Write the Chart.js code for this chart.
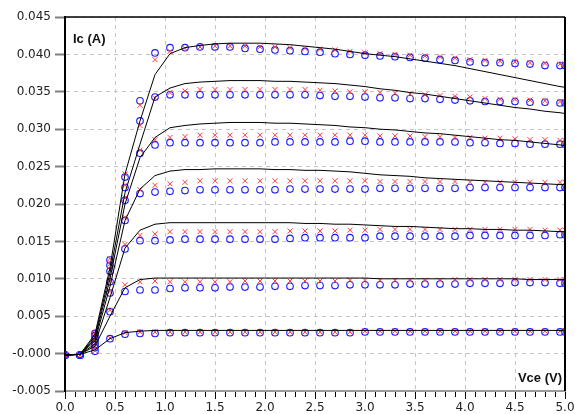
<!DOCTYPE html>
<html>
<head>
<meta charset="utf-8">
<script src="https://cdn.jsdelivr.net/npm/chart.js@4.4.1/dist/chart.umd.min.js"></script>
<style>
html,body{margin:0;padding:0;background:#fff;}
#wrap{width:575px;height:414px;position:relative;}
</style>
</head>
<body>
<div id="wrap"><canvas id="c" width="575" height="414"></canvas></div>
<script>
// Vce values (V)
const vce = [0,0.15,0.3,0.45,0.6, 0.75,0.9,1.05,1.2,1.35, 1.5,1.65,1.8,1.95,2.1, 2.25,2.4,2.55,2.7,2.85,
             3.0,3.15,3.3,3.45,3.6, 3.75,3.9,4.05,4.2,4.35, 4.5,4.65,4.8,4.95,5.0];

// Model curves (black lines), Ic (A)
const model1 = [-0.0002,-0.0001,0.0005,0.0020,0.0028, 0.0030,0.0031,0.0031,0.0031,0.0031, 0.0031,0.0031,0.0031,0.0031,0.0031, 0.0031,0.0031,0.0031,0.0031,0.0031, 0.0031,0.0031,0.0031,0.0031,0.0031, 0.0031,0.0031,0.0031,0.0031,0.0031, 0.0031,0.0031,0.0031,0.0031,0.0031];
const model2 = [-0.0002,-0.0001,0.0010,0.0050,0.0088, 0.0099,0.0101,0.0101,0.0101,0.0101, 0.0101,0.0101,0.0101,0.0101,0.0101, 0.0101,0.0101,0.0101,0.0101,0.0101, 0.0101,0.0100,0.0100,0.0100,0.0100, 0.0100,0.0100,0.0100,0.0100,0.0100, 0.0100,0.0099,0.0099,0.0099,0.0099];
const model3 = [-0.0002,-0.0001,0.0013,0.0075,0.0141, 0.0165,0.0173,0.0175,0.0175,0.0175, 0.0175,0.0175,0.0175,0.0175,0.0175, 0.0175,0.0174,0.0174,0.0173,0.0173, 0.0172,0.0171,0.0170,0.0170,0.0169, 0.0168,0.0167,0.0167,0.0166,0.0166, 0.0165,0.0165,0.0164,0.0163,0.0163];
const model4 = [-0.0002,-0.0001,0.0017,0.0090,0.0178, 0.0220,0.0238,0.0244,0.0246,0.0246, 0.0247,0.0247,0.0247,0.0247,0.0246, 0.0246,0.0245,0.0245,0.0244,0.0243, 0.0241,0.0239,0.0238,0.0237,0.0235, 0.0234,0.0233,0.0232,0.0231,0.0230, 0.0229,0.0228,0.0227,0.0226,0.0226];
const model5 = [-0.0002,-0.0001,0.0020,0.0100,0.0200, 0.0262,0.0289,0.0302,0.0305,0.0307, 0.0308,0.0309,0.0309,0.0309,0.0308, 0.0308,0.0307,0.0306,0.0305,0.0303, 0.0302,0.0300,0.0299,0.0297,0.0295, 0.0294,0.0292,0.0290,0.0288,0.0286, 0.0285,0.0283,0.0281,0.0279,0.0278];
const model6 = [-0.0002,-0.0001,0.0023,0.0108,0.0215, 0.0280,0.0343,0.0355,0.0361,0.0363, 0.0364,0.0365,0.0365,0.0365,0.0364, 0.0364,0.0363,0.0362,0.0361,0.0359, 0.0357,0.0354,0.0352,0.0349,0.0347, 0.0344,0.0341,0.0338,0.0335,0.0332, 0.0329,0.0327,0.0324,0.0322,0.0321];
const model7 = [-0.0002,-0.0001,0.0026,0.0115,0.0240, 0.0311,0.0373,0.0401,0.0409,0.0412, 0.0414,0.0415,0.0415,0.0415,0.0414, 0.0413,0.0411,0.0409,0.0407,0.0404, 0.0401,0.0399,0.0397,0.0394,0.0391, 0.0388,0.0385,0.0381,0.0377,0.0373, 0.0369,0.0365,0.0361,0.0357,0.0356];

// Measured set A (blue circles)
const measA1 = [-0.0002,-0.0002,0.0003,0.0020,0.0026, 0.0027,0.0027,0.0028,0.0028,0.0028, 0.0028,0.0028,0.0028,0.0028,0.0028, 0.0028,0.0028,0.0028,0.0028,0.0028, 0.0029,0.0029,0.0029,0.0029,0.0029, 0.0029,0.0029,0.0029,0.0029,0.0029, 0.0029,0.0029,0.0029,0.0029,0.0029];
const measA2 = [-0.0002,-0.0002,0.0008,0.0056,0.0083, 0.0085,0.0085,0.0087,0.0088,0.0088, 0.0088,0.0089,0.0089,0.0089,0.0090, 0.0090,0.0091,0.0091,0.0091,0.0092, 0.0092,0.0092,0.0092,0.0093,0.0093, 0.0093,0.0093,0.0094,0.0094,0.0094, 0.0095,0.0095,0.0095,0.0094,0.0094];
const measA3 = [-0.0002,-0.0002,0.0012,0.0081,0.0140, 0.0151,0.0151,0.0152,0.0153,0.0153, 0.0153,0.0153,0.0153,0.0153,0.0153, 0.0154,0.0155,0.0155,0.0155,0.0155, 0.0155,0.0157,0.0157,0.0157,0.0157, 0.0157,0.0157,0.0158,0.0158,0.0158, 0.0158,0.0158,0.0158,0.0159,0.0159];
const measA4 = [-0.0002,-0.0002,0.0016,0.0096,0.0178, 0.0214,0.0216,0.0217,0.0218,0.0219, 0.0219,0.0219,0.0219,0.0219,0.0219, 0.0220,0.0220,0.0220,0.0220,0.0220, 0.0220,0.0221,0.0221,0.0221,0.0221, 0.0221,0.0221,0.0222,0.0222,0.0222, 0.0222,0.0222,0.0222,0.0222,0.0222];
const measA5 = [-0.0002,-0.0002,0.0020,0.0110,0.0205, 0.0268,0.0279,0.0282,0.0282,0.0282, 0.0282,0.0282,0.0282,0.0282,0.0283, 0.0283,0.0283,0.0283,0.0283,0.0284, 0.0284,0.0283,0.0283,0.0283,0.0283, 0.0283,0.0283,0.0282,0.0282,0.0281, 0.0281,0.0280,0.0280,0.0280,0.0280];
const measA6 = [-0.0002,-0.0002,0.0024,0.0118,0.0222, 0.0311,0.0343,0.0346,0.0346,0.0346, 0.0346,0.0346,0.0346,0.0346,0.0346, 0.0346,0.0346,0.0345,0.0344,0.0344, 0.0343,0.0342,0.0342,0.0341,0.0341, 0.0340,0.0339,0.0338,0.0337,0.0337, 0.0337,0.0336,0.0336,0.0335,0.0335];
const measA7 = [-0.0002,-0.0002,0.0027,0.0125,0.0236, 0.0338,0.0402,0.0409,0.0409,0.0410, 0.0410,0.0410,0.0408,0.0407,0.0406, 0.0405,0.0404,0.0403,0.0401,0.0400, 0.0399,0.0398,0.0397,0.0396,0.0395, 0.0393,0.0392,0.0390,0.0389,0.0389, 0.0388,0.0387,0.0385,0.0385,0.0385];

// Measured set B (red crosses)
const measB1 = [-0.0002,-0.0002,0.0004,0.0021,0.0028, 0.0029,0.0029,0.0029,0.0029,0.0029, 0.0029,0.0029,0.0029,0.0029,0.0029, 0.0029,0.0029,0.0029,0.0029,0.0029, 0.0030,0.0030,0.0030,0.0030,0.0030, 0.0030,0.0030,0.0030,0.0030,0.0030, 0.0030,0.0030,0.0030,0.0030,0.0030];
const measB2 = [-0.0002,-0.0002,0.0009,0.0058,0.0092, 0.0096,0.0097,0.0096,0.0096,0.0096, 0.0096,0.0096,0.0097,0.0097,0.0097, 0.0097,0.0097,0.0097,0.0097,0.0098, 0.0098,0.0098,0.0098,0.0098,0.0098, 0.0098,0.0099,0.0099,0.0099,0.0099, 0.0099,0.0099,0.0099,0.0099,0.0099];
const measB3 = [-0.0002,-0.0002,0.0013,0.0083,0.0146, 0.0158,0.0160,0.0163,0.0163,0.0163, 0.0163,0.0163,0.0163,0.0163,0.0163, 0.0164,0.0164,0.0164,0.0164,0.0165, 0.0165,0.0166,0.0166,0.0166,0.0166, 0.0166,0.0166,0.0166,0.0166,0.0166, 0.0166,0.0166,0.0165,0.0165,0.0165];
const measB4 = [-0.0002,-0.0002,0.0017,0.0098,0.0182, 0.0219,0.0225,0.0227,0.0229,0.0231, 0.0231,0.0231,0.0231,0.0231,0.0231, 0.0231,0.0231,0.0231,0.0231,0.0231, 0.0231,0.0230,0.0230,0.0230,0.0230, 0.0230,0.0230,0.0229,0.0229,0.0229, 0.0229,0.0229,0.0229,0.0229,0.0229];
const measB5 = [-0.0002,-0.0002,0.0021,0.0112,0.0208, 0.0272,0.0286,0.0289,0.0290,0.0292, 0.0292,0.0292,0.0292,0.0292,0.0292, 0.0292,0.0292,0.0292,0.0292,0.0292, 0.0292,0.0291,0.0291,0.0291,0.0290, 0.0290,0.0289,0.0289,0.0288,0.0288, 0.0287,0.0286,0.0286,0.0285,0.0285];
const measB6 = [-0.0002,-0.0002,0.0025,0.0120,0.0225, 0.0305,0.0342,0.0349,0.0351,0.0353, 0.0353,0.0353,0.0353,0.0353,0.0353, 0.0353,0.0353,0.0352,0.0351,0.0350, 0.0350,0.0349,0.0348,0.0347,0.0346, 0.0345,0.0344,0.0343,0.0341,0.0340, 0.0340,0.0339,0.0338,0.0337,0.0337];
const measB7 = [-0.0002,-0.0002,0.0028,0.0127,0.0240, 0.0332,0.0393,0.0404,0.0408,0.0410, 0.0411,0.0411,0.0411,0.0410,0.0410, 0.0409,0.0408,0.0407,0.0406,0.0404, 0.0402,0.0401,0.0400,0.0399,0.0398, 0.0397,0.0395,0.0393,0.0392,0.0391, 0.0390,0.0389,0.0388,0.0387,0.0387];

// Axis settings
const xMin = 0, xMax = 5, xStep = 0.5, xMinorStep = 0.1;
const yMin = -0.005, yMax = 0.045, yStep = 0.005;
const yTitle = "Ic (A)";
const xTitle = "Vce (V)";

const models = [model1, model2, model3, model4, model5, model6, model7];
const measA = [measA1, measA2, measA3, measA4, measA5, measA6, measA7];
const measB = [measB1, measB2, measB3, measB4, measB5, measB6, measB7];

const toXY = arr => arr.map((v, i) => ({x: vce[i], y: v}));

const datasets = [];
models.forEach((m, k) => datasets.push({
  label: 'model ' + (k + 1), data: toXY(m), showLine: true,
  borderColor: '#000', borderWidth: 1, pointRadius: 0, tension: 0, order: 1
}));
measB.forEach((m, k) => datasets.push({
  label: 'meas B ' + (k + 1), data: toXY(m), showLine: false,
  pointStyle: 'crossRot', pointRadius: 3.6, borderColor: '#ff3b3b', borderWidth: 1,
  backgroundColor: 'transparent', order: 2
}));
measA.forEach((m, k) => datasets.push({
  label: 'meas A ' + (k + 1), data: toXY(m), showLine: false,
  pointStyle: 'circle', pointRadius: 3.3, borderColor: '#1a1aff', borderWidth: 1.1,
  backgroundColor: 'transparent', order: 3
}));

const framePlugin = {
  id: 'frame',
  afterDraw(chart) {
    const {ctx, chartArea: a, scales} = chart;
    const xs = scales.x;
    ctx.save();
    // minor ticks on x axis
    ctx.strokeStyle = '#000';
    ctx.lineWidth = 1;
    for (let i = 0; i <= Math.round((xMax - xMin) / xMinorStep); i++) {
      const v = xMin + i * xMinorStep;
      if (Math.abs(v / xStep - Math.round(v / xStep)) < 1e-6) continue;
      const px = Math.round(xs.getPixelForValue(v)) + 0.5;
      ctx.beginPath();
      ctx.moveTo(px, a.bottom + 1);
      ctx.lineTo(px, a.bottom + 6);
      ctx.stroke();
    }
    // top and right frame
    ctx.strokeStyle = '#000';
    ctx.lineWidth = 1.5;
    ctx.beginPath();
    ctx.moveTo(a.left, a.top);
    ctx.lineTo(a.right, a.top);
    ctx.stroke();
    ctx.lineWidth = 2;
    ctx.beginPath();
    ctx.moveTo(a.right, a.top);
    ctx.lineTo(a.right, a.bottom);
    ctx.stroke();
    // axis titles inside plot
    ctx.fillStyle = '#111';
    ctx.font = "bold 13px 'Liberation Sans', Arial, sans-serif";
    ctx.textAlign = 'left';
    ctx.textBaseline = 'alphabetic';
    ctx.fillText(yTitle, a.left + 8, a.top + 26);
    ctx.textAlign = 'right';
    ctx.fillText(xTitle, a.right - 3, a.bottom - 9);
    ctx.restore();
  }
};

Chart.defaults.font.family = "'DejaVu Sans', Verdana, sans-serif";
Chart.defaults.font.size = 12;
Chart.defaults.color = '#222';

new Chart(document.getElementById('c'), {
  type: 'scatter',
  data: {datasets},
  options: {
    responsive: false,
    animation: false,
    layout: {padding: {left: 0, top: 17, right: 10, bottom: 0}},
    plugins: {legend: {display: false}, tooltip: {enabled: false}},
    scales: {
      x: {
        type: 'linear', min: xMin, max: xMax,
        ticks: {stepSize: xStep, padding: 3, font: {size: 12, lineHeight: 1},
                callback: v => Number(v).toFixed(1), maxRotation: 0, autoSkip: false},
        grid: {color: '#c4c4c4', lineWidth: 1, tickColor: '#000', tickWidth: 1, tickLength: 8},
        border: {color: '#9a9a9a', width: 2, dash: [4, 4]},
        afterFit: s => { s.height = 23; s.paddingLeft = 0; s.paddingRight = 0; }
      },
      y: {
        type: 'linear', min: yMin, max: yMax,
        ticks: {stepSize: yStep, padding: 4, callback: v => Number(v).toFixed(3), autoSkip: false},
        grid: {color: '#c4c4c4', lineWidth: 1, tickColor: '#808080', tickWidth: 2, tickLength: 10},
        border: {color: '#000', width: 2, dash: [4, 4]},
        afterFit: s => { s.width = 65; s.paddingTop = 0; s.paddingBottom = 0; }
      }
    }
  },
  plugins: [framePlugin]
});
</script>
</body>
</html>
